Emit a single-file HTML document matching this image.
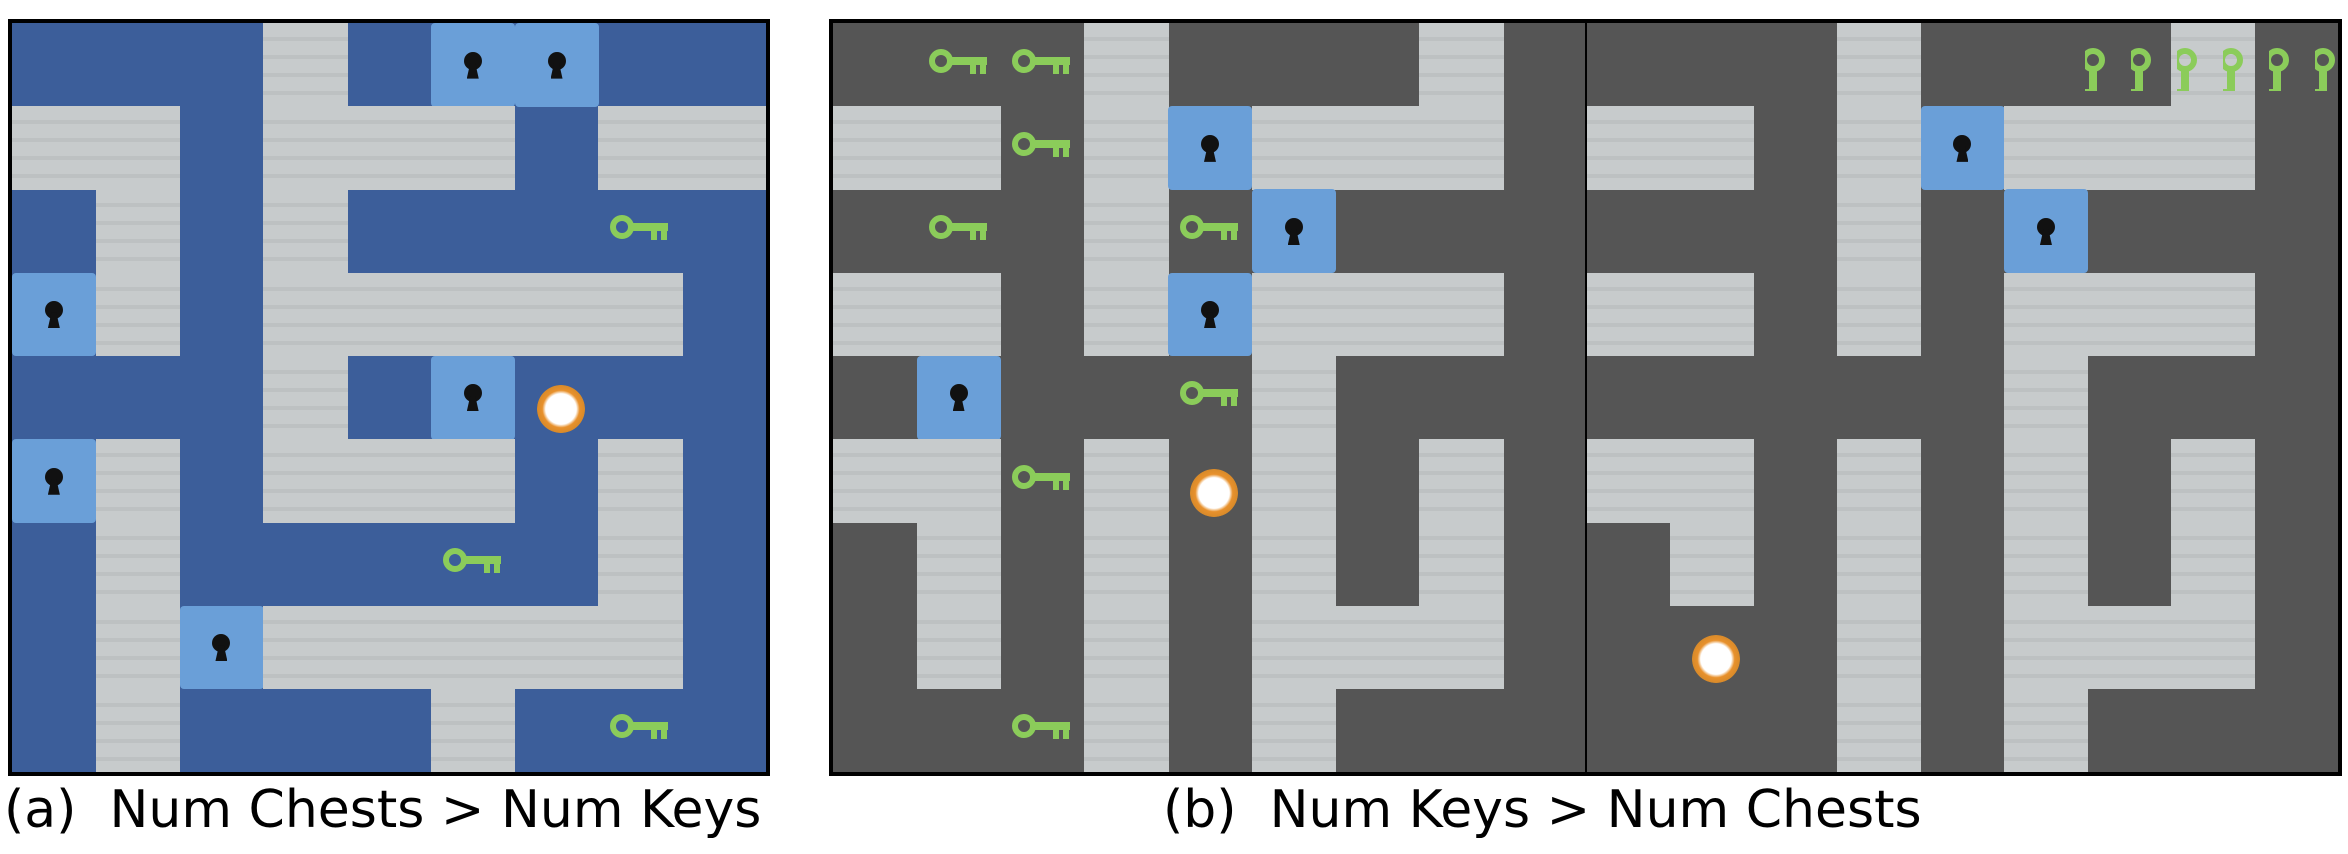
<!DOCTYPE html>
<html><head><meta charset="utf-8">
<style>
html,body{margin:0;padding:0;background:#fff;}
body{width:2348px;height:854px;position:relative;overflow:hidden;font-family:"Liberation Sans","DejaVu Sans",sans-serif;}
.panel{position:absolute;border:4px solid #000;box-sizing:border-box;overflow:hidden;}
.cell{position:absolute;}
.cap{position:absolute;font-family:"DejaVu Sans","Liberation Sans",sans-serif;font-size:52px;color:#000;white-space:pre;}
</style></head><body>
<div class="panel" id="pa" style="left:8px;top:19px;width:762px;height:757px;background:#3c5e9a;"></div>
<div class="panel" id="pb1" style="left:829px;top:19px;width:760px;height:757px;background:#555555;border-right-width:2px;"></div>
<div class="panel" id="pb2" style="left:1585px;top:19px;width:757px;height:757px;background:#555555;border-left-width:2px;"></div>
<div class="cap" style="left:4px;top:780px;">(a)  Num Chests &gt; Num Keys</div>
<div class="cap" style="left:1163px;top:780px;">(b)  Num Keys &gt; Num Chests</div>
<script>
// L floor, D background, C chest, K key, A agent
const mazeA=["DDDLDCCDD","LLDLLLDLL","DLDLDDDKD","CLDLLLLLD","DDDLDCADD","CLDLLLDLD","DLDDDKDLD","DLCLLLLLD","DLDDDLDKD"];
const mazeB1=["DKKLDDDLD","LLKLCLLLD","DKDLKCDDD","LLDLCLLLD","DCDDKLDDD","LLKLALDLD","DLDLDLDLD","DLDLDLLLD","DDKLDLDDD"];
const mazeB2=["DDDLDDDLD","LLDLCLLLD","DDDLDCDDD","LLDLDLLLD","DDDDDLDDD","LLDLDLDLD","DLDLDLDLD","DADLDLLLD","DDDLDLDDD"];
const NS="http://www.w3.org/2000/svg";
function keySVG(vertical){
  const s=document.createElementNS(NS,"svg");
  s.setAttribute("width",vertical?"22":"62");s.setAttribute("height",vertical?"44":"36");
  s.setAttribute("viewBox",vertical?"0 0 22 44":"0 0 62 36");
  let g=vertical?'<g transform="translate(22,0) rotate(90)">':'<g>';
  s.innerHTML=g+'<circle cx="13" cy="14" r="9" fill="none" stroke="#8bcc5a" stroke-width="6"/><rect x="21" y="10" width="38" height="8" fill="#8bcc5a"/><rect x="42" y="16" width="6" height="11" fill="#8bcc5a"/><rect x="52" y="16" width="6" height="11" fill="#8bcc5a"/></g>';
  return s;
}
function build(id,maze){
  const p=document.getElementById(id);
  const W=p.clientWidth,H=p.clientHeight,cw=W/9,ch=H/9;
  maze.forEach((row,r)=>{[...row].forEach((t,c)=>{
    const d=document.createElement("div");d.className="cell";
    d.style.left=(c*cw)+"px";d.style.top=(r*ch)+"px";d.style.width=(cw+0.6)+"px";d.style.height=(ch+0.6)+"px";
    if(t==="L"){d.style.background="repeating-linear-gradient(180deg,#c7cbcc 0 14px,#bdc1c2 14px 18px)";
      }
    else if(t==="C"){d.style.background="#6a9fd8";d.style.borderRadius="4px";
      
      d.innerHTML='<div style="position:absolute;left:'+(cw/2-9)+'px;top:'+(ch/2-13)+'px;width:18px;height:18px;border-radius:50%;background:#111"></div><div style="position:absolute;left:'+(cw/2-6)+'px;top:'+(ch/2-2)+'px;width:12px;height:16px;background:#111;clip-path:polygon(30% 0,70% 0,100% 100%,0 100%)"></div>';}
    else if(t==="K"){
      const k=keySVG(false);k.style.position="absolute";k.style.left=(cw/2-31)+"px";k.style.top=(ch/2-18)+"px";d.appendChild(k);}
    else if(t==="A"){
      d.innerHTML='<div style="position:absolute;left:'+(cw/2-20)+'px;top:'+(ch/2-12)+'px;width:48px;height:48px;border-radius:50%;background:radial-gradient(circle,#fff 0 45%,#e8912c 55%,#d88a2a 70%,transparent 72%)"></div>';}
    else {}
    
    p.appendChild(d);
  });});
}
build("pa",mazeA);build("pb1",mazeB1);build("pb2",mazeB2);
const pb2=document.getElementById("pb2");
for(let i=0;i<6;i++){
  const k=keySVG(true);k.style.position="absolute";k.style.left=(498+i*46)+"px";k.style.top="24px";
  
  
  pb2.appendChild(k);
}
</script>
</body></html>
